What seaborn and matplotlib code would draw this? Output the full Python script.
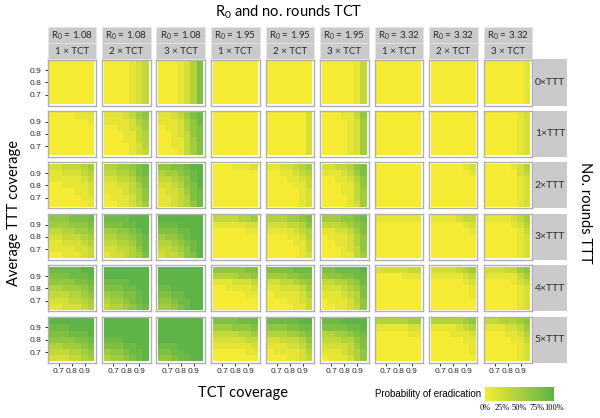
import numpy as np
import matplotlib
matplotlib.use('Agg')
import matplotlib.pyplot as plt
import seaborn as sns
from matplotlib import font_manager
from matplotlib.colors import LinearSegmentedColormap, Normalize
from matplotlib.cm import ScalarMappable
from matplotlib.patches import Rectangle

'''Dados lidos da figura: cada painel = 7 linhas (TTT 0.95 -> 0.65) x 7 colunas (TCT 0.65 -> 0.95)
   cada digito = probabilidade de erradicacao numa escala 0-9 (9 = 100%)'''
x_cov = [0.65, 0.70, 0.75, 0.80, 0.85, 0.90, 0.95]
y_cov = [0.95, 0.90, 0.85, 0.80, 0.75, 0.70, 0.65]
tick_vals = [0.7, 0.8, 0.9]
tick_labels = ["0.7", "0.8", "0.9"]
r0_values = ["1.08", "1.08", "1.08", "1.95", "1.95", "1.95", "3.32", "3.32", "3.32"]
tct_rounds = [1, 2, 3, 1, 2, 3, 1, 2, 3]
ttt_rounds = [0, 1, 2, 3, 4, 5]
legend_ticks = [0, 0.25, 0.5, 0.75, 1]
legend_labels = ["0%", "25%", "50%", "75%", "100%"]

r108_tct1 = [
    ["0000000", "0000000", "0000000", "0000000", "0000000", "0000000", "0000000"],
    ["0000111", "0000001", "0000000", "0000000", "0000000", "0000000", "0000000"],
    ["2233345", "1122234", "1111123", "0011112", "0000112", "0000011", "0000001"],
    ["6667778", "5556667", "3344556", "2233345", "1122234", "1111223", "0011123"],
    ["8888899", "7778889", "6666778", "4455567", "3334456", "2223345", "1122234"],
    ["9999999", "8889999", "7778889", "6666778", "4455567", "3334456", "2223345"],
]
r108_tct2 = [
    ["0000123", "0000123", "0000123", "0000123", "0000123", "0000123", "0000123"],
    ["1112356", "1111245", "0011235", "0001134", "0001134", "0000124", "0000123"],
    ["4455678", "3344578", "2233467", "1122357", "1112346", "0111246", "0011235"],
    ["8888999", "7778899", "5566789", "4455678", "3344578", "2233468", "1223457"],
    ["9999999", "9999999", "8888999", "7778899", "5667789", "4556789", "3445678"],
    ["9999999", "9999999", "9999999", "8889999", "7778899", "5667889", "4556789"],
]
r108_tct3 = [
    ["0001247", "0001247", "0001247", "0001247", "0001247", "0001247", "0001247"],
    ["1123578", "1112468", "0112467", "0012367", "0011357", "0011357", "0001357"],
    ["6677899", "4556789", "3345689", "2234679", "1223578", "1123478", "1123468"],
    ["9999999", "8889999", "7778899", "5667899", "4456789", "3345689", "2334679"],
    ["9999999", "9999999", "9999999", "8899999", "7788999", "6678899", "5567899"],
    ["9999999", "9999999", "9999999", "9999999", "8889999", "7788999", "6678899"],
]
r195_tct1 = [
    ["0000000", "0000000", "0000000", "0000000", "0000000", "0000000", "0000000"],
    ["0000000", "0000000", "0000000", "0000000", "0000000", "0000000", "0000000"],
    ["0001112", "0000000", "0000000", "0000000", "0000000", "0000000", "0000000"],
    ["3333445", "1111122", "0000011", "0000000", "0000000", "0000000", "0000000"],
    ["6666677", "4444556", "1112223", "0011112", "0000011", "0000000", "0000000"],
    ["7777888", "5556667", "3333445", "2222233", "1111112", "0000011", "0000000"],
]
r195_tct2 = [
    ["0000000", "0000000", "0000000", "0000000", "0000000", "0000000", "0000000"],
    ["0000002", "0000002", "0000002", "0000002", "0000002", "0000002", "0000002"],
    ["1122345", "0011234", "0001123", "0000113", "0000012", "0000012", "0000012"],
    ["4445567", "2223346", "1111234", "0001124", "0000113", "0000013", "0000012"],
    ["7777888", "5556677", "2233456", "1122235", "0111124", "0001123", "0000113"],
    ["8888899", "6667788", "4445567", "2233346", "1112235", "0111124", "0001123"],
]
r195_tct3 = [
    ["0000013", "0000013", "0000013", "0000013", "0000013", "0000013", "0000013"],
    ["0001136", "0000125", "0000125", "0000125", "0000125", "0000125", "0000125"],
    ["2233467", "1112357", "0011246", "0001136", "0001135", "0000135", "0000125"],
    ["5556678", "3334567", "1122357", "0111246", "0011246", "0001236", "0001135"],
    ["7788889", "6667788", "3344568", "2223457", "1112347", "0111246", "0011236"],
    ["8889999", "7777889", "4455678", "3334467", "2222357", "1112346", "0111246"],
]
r332_tct1 = [
    ["0000000", "0000000", "0000000", "0000000", "0000000", "0000000", "0000000"],
    ["0000000", "0000000", "0000000", "0000000", "0000000", "0000000", "0000000"],
    ["0000000", "0000000", "0000000", "0000000", "0000000", "0000000", "0000000"],
    ["1111111", "0000000", "0000000", "0000000", "0000000", "0000000", "0000000"],
    ["2222233", "0000111", "0000000", "0000000", "0000000", "0000000", "0000000"],
    ["4444455", "1111122", "0000011", "0000000", "0000000", "0000000", "0000000"],
]
r332_tct2 = [
    ["0000000", "0000000", "0000000", "0000000", "0000000", "0000000", "0000000"],
    ["0000000", "0000000", "0000000", "0000000", "0000000", "0000000", "0000000"],
    ["0000012", "0000001", "0000000", "0000000", "0000000", "0000000", "0000000"],
    ["1111233", "0000012", "0000001", "0000000", "0000000", "0000000", "0000000"],
    ["2222345", "1111123", "0000012", "0000001", "0000001", "0000000", "0000000"],
    ["4444456", "1111234", "0001112", "0000011", "0000001", "0000001", "0000000"],
]
r332_tct3 = [
    ["0000001", "0000001", "0000001", "0000001", "0000001", "0000001", "0000001"],
    ["0000012", "0000012", "0000012", "0000012", "0000012", "0000012", "0000012"],
    ["0000124", "0000023", "0000012", "0000012", "0000012", "0000012", "0000012"],
    ["1111235", "0000124", "0000013", "0000012", "0000012", "0000012", "0000012"],
    ["2223356", "1111135", "0000123", "0000012", "0000012", "0000012", "0000012"],
    ["3344456", "1112235", "0001124", "0000113", "0000012", "0000012", "0000012"],
]
panels = [r108_tct1, r108_tct2, r108_tct3, r195_tct1, r195_tct2, r195_tct3,
          r332_tct1, r332_tct2, r332_tct3]

'''Layout em pixels (600 x 418)'''
W, H = 600, 418
col_x0, col_dx, pan_w = 47.5, 54.5, 48.5
row_y0, row_dy, pan_h = 59.5, 51.45, 46

def fbox(x, y, w, h):
    return [x / W, 1 - (y + h) / H, w / W, h / H]

plt.rcParams['mathtext.fontset'] = 'custom'
plt.rcParams['mathtext.rm'] = 'Lato'
plt.rcParams['mathtext.default'] = 'regular'

# fonte estreita para os ticks, se existir
installed = {f.name for f in font_manager.fontManager.ttflist}
if 'Liberation Sans Narrow' in installed:
    tick_font, tick_size = 'Liberation Sans Narrow', 7
else:
    tick_font, tick_size = 'Liberation Sans', 6.1

cmap = LinearSegmentedColormap.from_list('erad', ['#f6eb33', '#5eb446'])
fig = plt.figure(figsize=(6, 4.18), dpi=100)

strip_col = '#cacaca'
txt_col = '#2b2b2b'

for c, panel_set in enumerate(panels):
    x = col_x0 + c * col_dx
    # faixas superiores
    for k, (lab, y) in enumerate([(r"R$_0$ = " + r0_values[c], 27),
                                   (f"{tct_rounds[c]} × TCT", 43.3)]):
        fig.add_artist(Rectangle((x / W, 1 - (y + 16) / H), pan_w / W, 16 / H,
                                 transform=fig.transFigure, facecolor=strip_col,
                                 edgecolor='#e6e6e6', lw=0.5))
        fig.text((x + pan_w / 2) / W, 1 - (y + 8.3) / H, lab, ha='center', va='center',
                 fontsize=7, family='Lato', color=txt_col)
    for r, ttt in enumerate(ttt_rounds):
        y = row_y0 + r * row_dy
        ax = fig.add_axes(fbox(x, y, pan_w, pan_h))
        mat = np.array([[int(ch) for ch in row] for row in panel_set[r]]) / 9
        sns.heatmap(mat, ax=ax, cmap=cmap, vmin=0, vmax=1, cbar=False,
                    xticklabels=False, yticklabels=False, linewidths=0)
        ax.set_xlim(-0.25, len(x_cov) + 0.25)
        ax.set_ylim(len(y_cov) + 0.25, -0.25)
        ax.set_facecolor('white')
        for s in ax.spines.values():
            s.set_visible(True)
            s.set_color('#b0b0b0')
            s.set_linewidth(1.0)
        if r == len(ttt_rounds) - 1:
            ax.set_xticks([x_cov.index(t) + 0.5 for t in tick_vals])
            ax.set_xticklabels(tick_labels, rotation=0)
        else:
            ax.set_xticks([])
        if c == 0:
            ax.set_yticks([y_cov.index(t) + 0.5 for t in tick_vals])
            ax.set_yticklabels(tick_labels, rotation=0)
        else:
            ax.set_yticks([])
        ax.tick_params(length=2.5, width=0.7, color=txt_col, labelsize=tick_size, pad=1.5,
                       labelcolor=txt_col)
        for t in ax.get_xticklabels() + ax.get_yticklabels():
            t.set_family(tick_font)

'''faixas da direita'''
for r, ttt in enumerate(ttt_rounds):
    y = row_y0 + r * row_dy
    fig.add_artist(Rectangle((532.7 / W, 1 - (y + pan_h) / H), 34.6 / W, pan_h / H,
                             transform=fig.transFigure, facecolor=strip_col, edgecolor='none'))
    fig.text(550 / W, 1 - (y + pan_h / 2) / H, f"{ttt}×TTT", ha='center', va='center',
             fontsize=7.5, family='Lato', color=txt_col)

'''titulos'''
fig.text(288.5 / W, 1 - 12 / H, r"R$_0$ and no. rounds TCT", ha='center', va='center',
         fontsize=10.5, family='Lato', color='black')
fig.text(14 / W, 1 - 213 / H, "Average TTT coverage", ha='center', va='center',
         rotation=90, fontsize=10.5, family='Lato', color='black')
fig.text(585 / W, 1 - 213 / H, "No. rounds TTT", ha='center', va='center',
         rotation=270, fontsize=10.5, family='Lato', color='black')
fig.text(243 / W, 1 - 393 / H, "TCT coverage", ha='center', va='center',
         fontsize=10.5, family='Lato', color='black')

'''legenda'''
fig.text(375 / W, 1 - 394 / H, "Probability of eradication", ha='left', va='center',
         fontsize=7, family='Liberation Sans', color='black')
cax = fig.add_axes(fbox(485, 387, 69, 14))
cb = fig.colorbar(ScalarMappable(norm=Normalize(0, 1), cmap=cmap), cax=cax,
                  orientation='horizontal')
cb.outline.set_visible(False)
cb.set_ticks(legend_ticks)
cb.set_ticklabels(legend_labels)
cax.tick_params(length=0, labelsize=6, pad=2.5)
for t in cax.get_xticklabels():
    t.set_family('Liberation Serif')

fig.savefig('out.png', dpi=100)
